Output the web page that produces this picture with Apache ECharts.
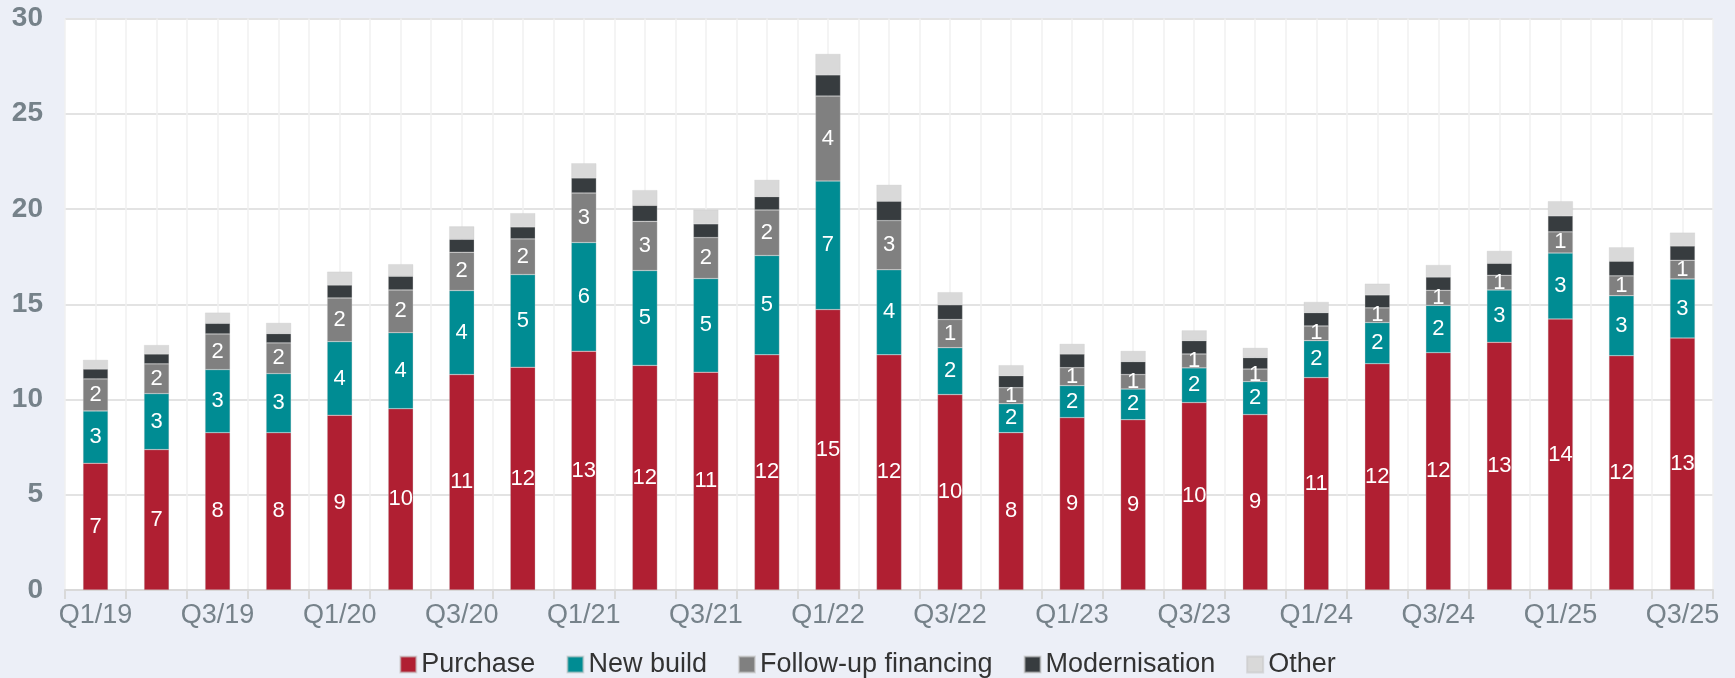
<!DOCTYPE html>
<html>
<head>
<meta charset="utf-8">
<title>Financing by purpose</title>
<script src="https://cdn.jsdelivr.net/npm/echarts@6/dist/echarts.min.js"></script>
<style>
  html, body {
    margin: 0;
    padding: 0;
    background: #eceff7;
  }
  #chart-container {
    width: 1735px;
    height: 678px;
  }
</style>
</head>
<body>
<div id="chart-container"></div>
<script>
// quarters Q1/19 .. Q3/25
const quarters = [
  "Q1/19", "Q2/19", "Q3/19", "Q4/19",
  "Q1/20", "Q2/20", "Q3/20", "Q4/20",
  "Q1/21", "Q2/21", "Q3/21", "Q4/21",
  "Q1/22", "Q2/22", "Q3/22", "Q4/22",
  "Q1/23", "Q2/23", "Q3/23", "Q4/23",
  "Q1/24", "Q2/24", "Q3/24", "Q4/24",
  "Q1/25", "Q2/25", "Q3/25",
];

const purchase = [6.65, 7.37, 8.26, 8.26, 9.17, 9.52, 11.31, 11.69, 12.53, 11.79, 11.43, 12.35, 14.72, 12.35, 10.26, 8.26, 9.05, 8.94, 9.84, 9.21, 11.15, 11.88, 12.46, 13.0, 14.23, 12.3, 13.23];
const newBuild = [2.75, 2.94, 3.31, 3.1, 3.87, 3.99, 4.41, 4.87, 5.71, 4.98, 4.92, 5.21, 6.75, 4.46, 2.46, 1.52, 1.68, 1.61, 1.82, 1.73, 1.94, 2.16, 2.48, 2.75, 3.46, 3.15, 3.1];
const followUp = [1.68, 1.56, 1.87, 1.61, 2.29, 2.24, 2.01, 1.87, 2.6, 2.58, 2.15, 2.39, 4.46, 2.58, 1.48, 0.84, 0.94, 0.76, 0.73, 0.66, 0.77, 0.77, 0.79, 0.77, 1.11, 1.04, 0.98];
const modernisation = [0.52, 0.52, 0.56, 0.49, 0.68, 0.72, 0.68, 0.63, 0.79, 0.84, 0.72, 0.7, 1.11, 1.02, 0.77, 0.63, 0.72, 0.68, 0.7, 0.6, 0.7, 0.68, 0.7, 0.63, 0.84, 0.77, 0.75];
const other = [0.48, 0.47, 0.56, 0.56, 0.7, 0.63, 0.68, 0.72, 0.77, 0.8, 0.75, 0.88, 1.1, 0.86, 0.66, 0.55, 0.53, 0.56, 0.54, 0.51, 0.56, 0.59, 0.63, 0.65, 0.77, 0.73, 0.7];

const yTicks = { min: 0, max: 30, step: 5 };

const fontFamily = "'Liberation Sans', Arial, sans-serif";
const axisGray = "#76828a";

function barSeries(name, data, color, withLabel) {
  return {
    name: name,
    type: "bar",
    stack: "total",
    xAxisIndex: 0,
    barWidth: 25,
    data: data,
    itemStyle: {
      color: color,
      borderColor: "rgba(200,200,200,0.6)",
      borderWidth: 0.5,
    },
    label: {
      show: withLabel,
      position: "inside",
      color: "#fff",
      fontSize: 22,
      fontFamily: fontFamily,
      formatter: function (p) {
        return Math.round(p.value);
      },
    },
  };
}

const chart = echarts.init(document.getElementById("chart-container"));

const option = {
  backgroundColor: "#eceff7",
  animation: false,
  textStyle: { fontFamily: fontFamily },
  grid: {
    left: 65,
    right: 22,
    top: 18.5,
    bottom: 88,
    show: true,
    backgroundColor: "#fff",
    borderWidth: 0,
  },
  legend: {
    bottom: -5,
    left: "center",
    itemWidth: 16,
    itemHeight: 16,
    itemGap: 31,
    icon: "rect",
    textStyle: {
      fontSize: 27,
      color: "#333",
      fontFamily: fontFamily,
    },
    data: ["Purchase", "New build", "Follow-up financing", "Modernisation", "Other"],
  },
  xAxis: [
    {
      type: "category",
      data: quarters,
      axisLine: { lineStyle: { color: "#d9d9d9", width: 2 } },
      axisTick: {
        show: true,
        interval: 0,
        length: 9,
        lineStyle: { color: "#d9d9d9", width: 2 },
      },
      axisLabel: {
        interval: 1,
        fontSize: 27,
        color: axisGray,
        margin: 12,
        fontFamily: fontFamily,
      },
      splitLine: { show: false },
    },
    {
      // helper axis: thin vertical lines at every half category
      type: "value",
      min: 0,
      max: quarters.length * 2,
      interval: 1,
      position: "bottom",
      axisLine: { show: false },
      axisTick: { show: false },
      axisLabel: { show: false },
      splitLine: { show: true, lineStyle: { color: "#f1f1f1", width: 1.5 } },
    },
  ],
  yAxis: {
    type: "value",
    min: yTicks.min,
    max: yTicks.max,
    interval: yTicks.step,
    axisLine: { show: false },
    axisTick: { show: false },
    axisLabel: {
      fontSize: 28,
      fontWeight: "bold",
      color: axisGray,
      margin: 22,
      fontFamily: fontFamily,
    },
    splitLine: { lineStyle: { color: "#e3e3e3", width: 2 } },
  },
  series: [
    barSeries("Purchase", purchase, "#b01f32", true),
    barSeries("New build", newBuild, "#008c93", true),
    barSeries("Follow-up financing", followUp, "#808080", true),
    barSeries("Modernisation", modernisation, "#373c3f", false),
    barSeries("Other", other, "#d9d9d9", false),
  ],
};

chart.setOption(option);
</script>
</body>
</html>
